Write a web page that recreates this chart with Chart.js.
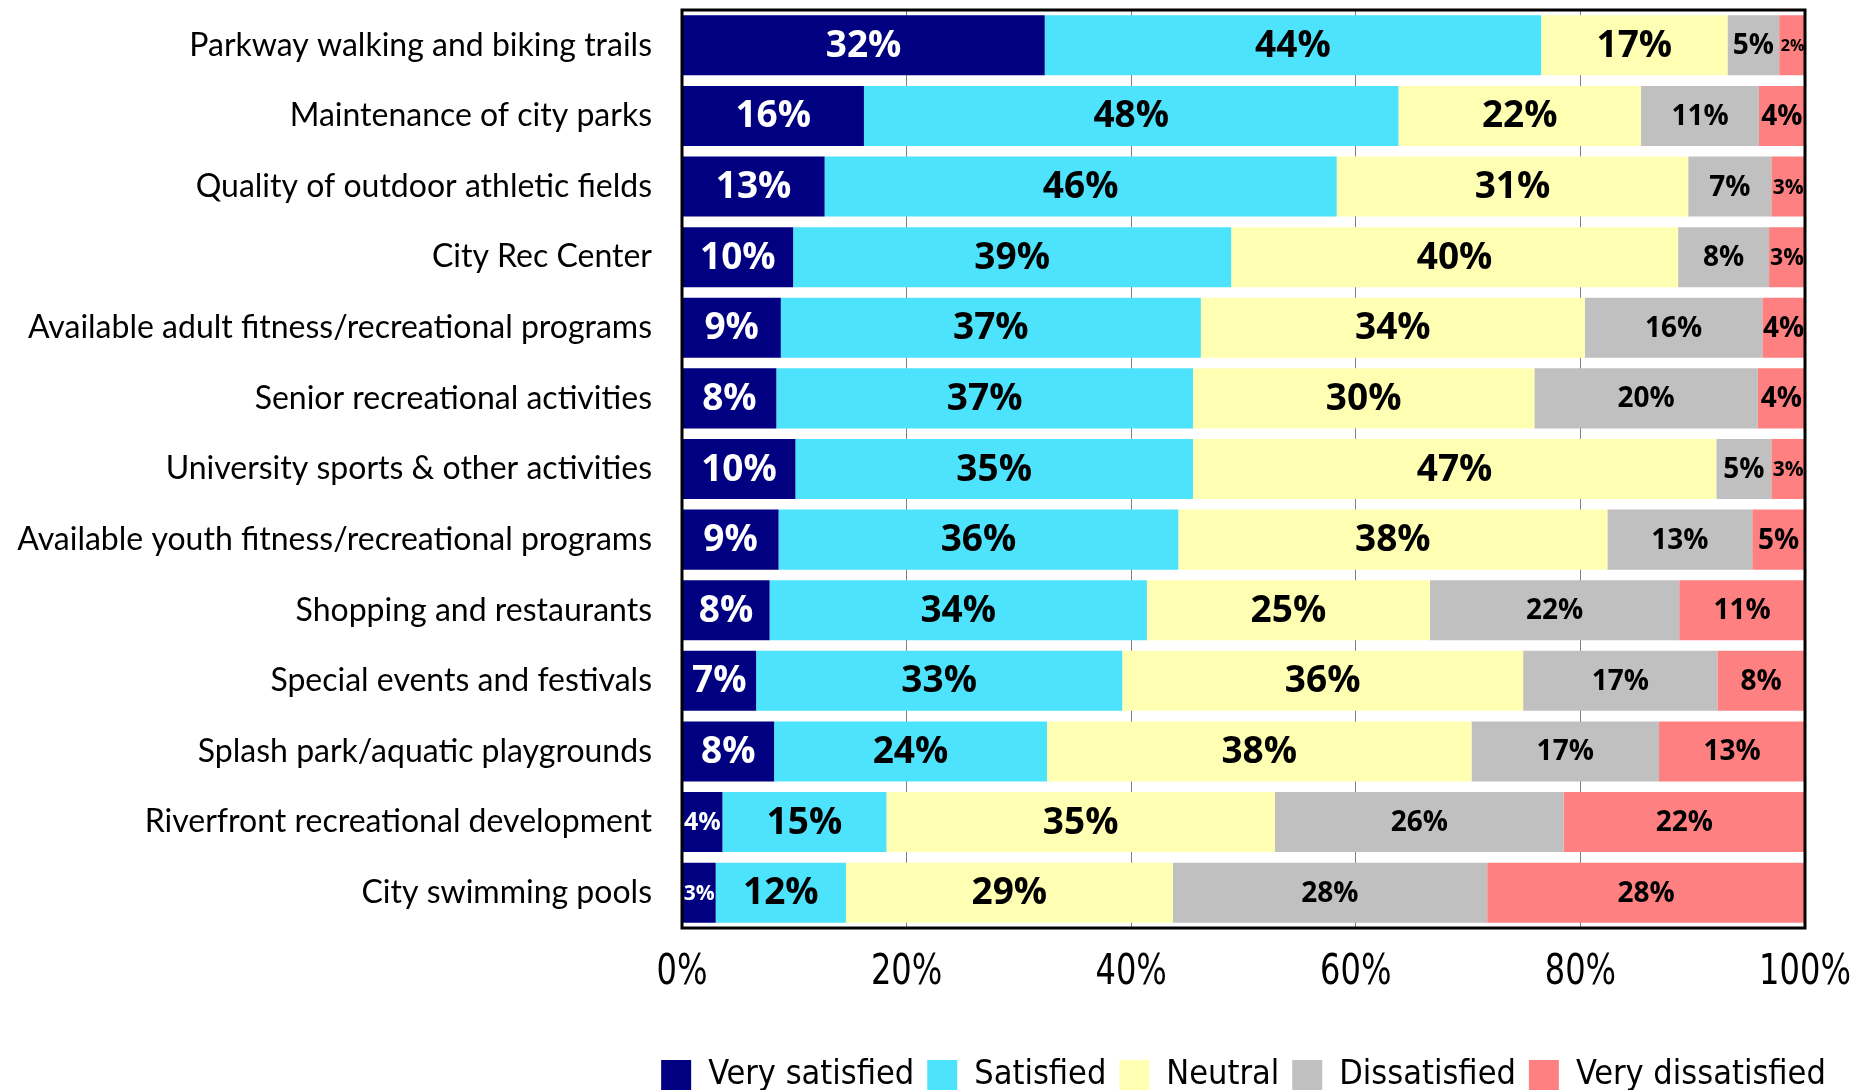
<!DOCTYPE html>
<html>
<head>
<meta charset="utf-8">
<script src="https://cdn.jsdelivr.net/npm/chart.js@4.4.0/dist/chart.umd.min.js"></script>
<style>
  html, body { margin: 0; padding: 0; background: #ffffff; }
  #wrap { width: 1876px; height: 1090px; }
</style>
</head>
<body>
<div id="wrap"><canvas id="satisfactionChart" width="1876" height="1090"></canvas></div>
<script>
// Categorías (de arriba hacia abajo)
const categories = [
    'Parkway walking and biking trails',
    'Maintenance of city parks',
    'Quality of outdoor athletic fields',
    'City Rec Center',
    'Available adult fitness/recreational programs',
    'Senior recreational activities',
    'University sports & other activities',
    'Available youth fitness/recreational programs',
    'Shopping and restaurants',
    'Special events and festivals',
    'Splash park/aquatic playgrounds',
    'Riverfront recreational development',
    'City swimming pools'
];

// Porcentajes por nivel de satisfacción
const verySatisfied    = [32.3, 16.2, 12.7,  9.9,  8.8,  8.4, 10.1,  8.6,  7.8,  6.6,  8.2,  3.6,  3.0];
const satisfied        = [44.2, 47.6, 45.6, 39.0, 37.4, 37.1, 35.4, 35.6, 33.6, 32.6, 24.3, 14.6, 11.6];
const neutral          = [16.6, 21.6, 31.3, 39.8, 34.2, 30.4, 46.6, 38.2, 25.2, 35.7, 37.8, 34.6, 29.1];
const dissatisfied     = [ 4.6, 10.5,  7.4,  8.1, 15.8, 19.9,  4.9, 12.9, 22.2, 17.3, 16.7, 25.7, 28.0];
const veryDissatisfied = [ 2.4,  4.1,  3.0,  3.2,  3.8,  4.2,  3.0,  4.7, 11.2,  7.8, 13.0, 21.5, 28.3];

const seriesNames = ['Very satisfied', 'Satisfied', 'Neutral', 'Dissatisfied', 'Very dissatisfied'];
const xTicks = [0, 20, 40, 60, 80, 100];

const colors = ['#000080', '#4DE3FC', '#FFFFB3', '#C0C0C0', '#FF8080'];
const labelColors = ['#ffffff', '#000000', '#000000', '#000000', '#000000'];
const condensedFont = '"DejaVu Sans Condensed", "DejaVu Sans", sans-serif';

// Etiquetas de porcentaje dentro de cada segmento
const segmentLabels = {
    id: 'segmentLabels',
    afterDatasetsDraw(chart) {
        const ctx = chart.ctx;
        ctx.save();
        ctx.textAlign = 'center';
        ctx.textBaseline = 'middle';
        chart.data.datasets.forEach((ds, di) => {
            const meta = chart.getDatasetMeta(di);
            meta.data.forEach((bar, i) => {
                const text = Math.round(ds.data[i]) + '%';
                const w = Math.abs(bar.x - bar.base);
                let size = di < 3 ? 37 : 28;
                ctx.font = 'bold ' + size + 'px "Open Sans", sans-serif';
                const tw = ctx.measureText(text).width;
                if (tw > w + 4) {
                    size = Math.max(12, Math.floor(size * (w - 2) / tw));
                    ctx.font = 'bold ' + size + 'px "Open Sans", sans-serif';
                }
                ctx.fillStyle = labelColors[di];
                ctx.fillText(text, (bar.x + bar.base) / 2, bar.y + 1);
            });
        });
        ctx.restore();
    }
};

// Marco negro alrededor del área de trazado y etiquetas del eje X (estrechas)
const plotFrame = {
    id: 'plotFrame',
    beforeDraw(chart) {
        // Centrar la leyenda bajo el área de trazado
        const lg = chart.legend;
        const a = chart.chartArea;
        const off = (a.left + a.right) / 2 - (lg.left + lg.right) / 2;
        lg.left += off;
        lg.right += off;
    },
    afterDatasetsDraw(chart) {
        const a = chart.chartArea;
        const ctx = chart.ctx;
        ctx.save();
        ctx.strokeStyle = '#000000';
        ctx.lineWidth = 3;
        ctx.strokeRect(a.left, a.top, a.right - a.left, a.bottom - a.top);

        const xs = chart.scales.x;
        ctx.fillStyle = '#000000';
        ctx.textAlign = 'center';
        ctx.textBaseline = 'middle';
        ctx.font = '43px ' + condensedFont;
        xTicks.forEach(v => {
            ctx.save();
            ctx.translate(xs.getPixelForValue(v), a.bottom + 45);
            ctx.scale(0.83, 1);
            ctx.fillText(v + '%', 0, 0);
            ctx.restore();
        });
        ctx.restore();
    }
};

const datasetValues = [verySatisfied, satisfied, neutral, dissatisfied, veryDissatisfied];

new Chart(document.getElementById('satisfactionChart').getContext('2d'), {
    type: 'bar',
    data: {
        labels: categories,
        datasets: seriesNames.map((name, k) => ({
            label: name,
            data: datasetValues[k],
            backgroundColor: colors[k],
            borderWidth: 0,
            categoryPercentage: 1.0,
            barPercentage: 0.85
        }))
    },
    options: {
        indexAxis: 'y',
        responsive: false,
        animation: false,
        layout: {
            padding: { top: 10, right: 71, bottom: -12, left: 0 }
        },
        plugins: {
            legend: {
                position: 'bottom',
                labels: {
                    color: '#000000',
                    boxWidth: 30,
                    boxHeight: 30,
                    padding: 13,
                    font: { family: condensedFont, size: 34 }
                }
            },
            tooltip: { enabled: false }
        },
        scales: {
            x: {
                stacked: true,
                min: 0,
                max: 100,
                afterBuildTicks: (scale) => {
                    scale.ticks = xTicks.map(v => ({ value: v }));
                },
                afterFit: (scale) => { scale.height = 117; },
                border: { display: false },
                grid: {
                    color: '#808080',
                    lineWidth: 1,
                    drawTicks: false
                },
                ticks: { display: false }
            },
            y: {
                stacked: true,
                afterFit: (scale) => {
                    scale.width = 682;
                    scale.paddingTop = 0;
                    scale.paddingBottom = 0;
                },
                border: { display: false },
                grid: { display: false, drawTicks: false },
                ticks: {
                    padding: 30,
                    color: '#000000',
                    font: { family: 'Lato, sans-serif', size: 32 }
                }
            }
        }
    },
    plugins: [segmentLabels, plotFrame]
});
</script>
</body>
</html>
